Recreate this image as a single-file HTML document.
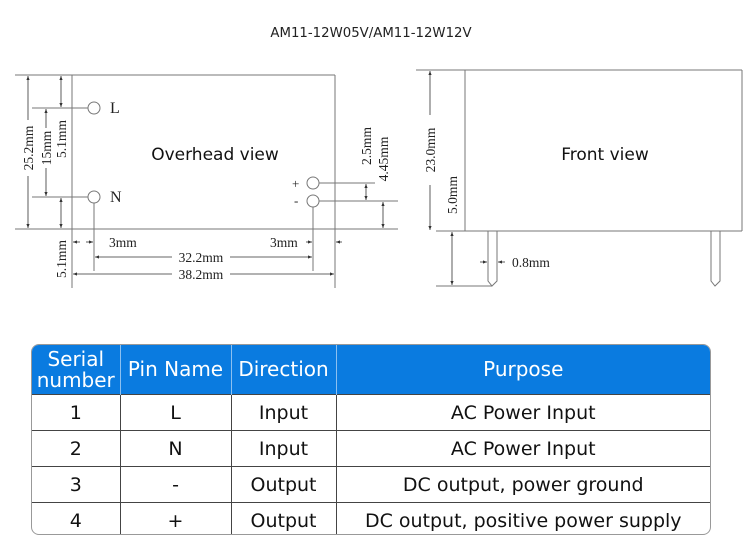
<!DOCTYPE html>
<html><head><meta charset="utf-8"><style>
html,body{margin:0;padding:0;background:#fff;}
body{width:750px;height:546px;position:relative;overflow:hidden;}
svg{position:absolute;left:0;top:0;}
.tb{position:absolute;left:31px;top:344px;width:680px;height:191px;border:1px solid #999;border-radius:8px;overflow:hidden;box-sizing:border-box;}
table{border-collapse:collapse;width:100%;height:100%;font-family:"DejaVu Sans","Liberation Sans",sans-serif;font-size:19px;color:#111;table-layout:fixed;}
th{background:#0a7be0;color:#fff;font-weight:normal;font-size:20px;height:49px;border-right:1px solid #8cc0f0;line-height:21px;padding:0;}
td{text-align:center;border-top:1px solid #444;border-right:1px solid #444;padding:0;height:35px;}
th:last-child,td:last-child{border-right:none;}
</style></head><body>
<svg width="750" height="546" xmlns="http://www.w3.org/2000/svg" font-family="Liberation Serif, serif" font-size="13.5" fill="#222">
<defs>
<marker id="a" viewBox="0 0 10 10" refX="10" refY="5" markerWidth="5" markerHeight="5" orient="auto-start-reverse"><path d="M0,1 L10,5 L0,9z" fill="#333"/></marker>
</defs>
<text x="371" y="37" text-anchor="middle" font-family="DejaVu Sans, Liberation Sans, sans-serif" font-size="13.3" fill="#222">AM11-12W05V/AM11-12W12V</text>
<g stroke="#777" stroke-width="1" fill="none">
<line x1="15" y1="75" x2="335" y2="75"/>
<line x1="15" y1="229" x2="398" y2="229"/>
<line x1="72" y1="75" x2="72" y2="288"/>
<line x1="335" y1="75" x2="335" y2="288"/>
<circle cx="94" cy="108" r="6"/><circle cx="94" cy="197" r="6"/>
<circle cx="313" cy="183" r="6"/><circle cx="313" cy="201" r="6"/>
<line x1="32" y1="108" x2="88" y2="108"/><line x1="32" y1="197" x2="88" y2="197"/>
<line x1="94" y1="203" x2="94" y2="271"/><line x1="313" y1="207" x2="313" y2="271"/>
<line x1="319" y1="183" x2="375" y2="183"/><line x1="319" y1="201" x2="398" y2="201"/>
</g>
<g stroke="#333" stroke-width="0.8" marker-start="url(#a)" marker-end="url(#a)">
<line x1="28" y1="76" x2="28" y2="228"/>
<line x1="46" y1="109" x2="46" y2="196"/>
<line x1="61" y1="76" x2="61" y2="107"/>
<line x1="61" y1="198" x2="61" y2="228"/>
<line x1="366" y1="184" x2="366" y2="200"/>
<line x1="383" y1="202" x2="383" y2="228"/>
<line x1="95" y1="257" x2="312" y2="257"/>
<line x1="73" y1="274" x2="334" y2="274"/>
<line x1="430" y1="71" x2="430" y2="230"/>
<line x1="452" y1="232" x2="452" y2="285"/>
</g>
<g stroke="#333" stroke-width="0.8" marker-end="url(#a)">
<line x1="80" y1="242" x2="73" y2="242"/><line x1="86" y1="242" x2="93" y2="242"/>
<line x1="306" y1="242" x2="312" y2="242"/><line x1="342" y1="242" x2="336" y2="242"/>
<line x1="480" y1="262" x2="487" y2="262"/><line x1="505" y1="262" x2="498" y2="262"/>
</g>
<g fill="#fff">
<rect x="20" y="120" width="16" height="56"/><rect x="38" y="128" width="16" height="40"/>
<rect x="53" y="114" width="16" height="50"/><rect x="53" y="234" width="16" height="50"/>
<rect x="358" y="122" width="16" height="48"/><rect x="375" y="130" width="16" height="58"/>
<rect x="422" y="115" width="16" height="70"/><rect x="444" y="166" width="16" height="58"/>
<rect x="172" y="250" width="58" height="14"/><rect x="172" y="267" width="58" height="14"/>
</g>
<text x="110" y="113" font-size="16">L</text>
<text x="110" y="202" font-size="16">N</text>
<text x="292" y="188" font-size="13">+</text>
<text x="294" y="205" font-size="13">-</text>
<text x="109" y="247">3mm</text>
<text x="270" y="247">3mm</text>
<text x="201" y="262" text-anchor="middle">32.2mm</text>
<text x="201" y="279" text-anchor="middle">38.2mm</text>
<text x="512" y="267">0.8mm</text>
<text transform="translate(33,148) rotate(-90)" text-anchor="middle">25.2mm</text>
<text transform="translate(51,148) rotate(-90)" text-anchor="middle">15mm</text>
<text transform="translate(66,139) rotate(-90)" text-anchor="middle">5.1mm</text>
<text transform="translate(66,259) rotate(-90)" text-anchor="middle">5.1mm</text>
<text transform="translate(371,146) rotate(-90)" text-anchor="middle">2.5mm</text>
<text transform="translate(388,159) rotate(-90)" text-anchor="middle">4.45mm</text>
<text transform="translate(435,150) rotate(-90)" text-anchor="middle">23.0mm</text>
<text transform="translate(457,195) rotate(-90)" text-anchor="middle">5.0mm</text>
<g font-family="DejaVu Sans, Liberation Sans, sans-serif" font-size="17" fill="#111">
<text x="215" y="160" text-anchor="middle">Overhead view</text>
<text x="605" y="160" text-anchor="middle">Front view</text>
</g>
<g stroke="#777" stroke-width="1" fill="none">
<line x1="416" y1="70" x2="742" y2="70"/>
<line x1="436" y1="231" x2="742" y2="231"/>
<line x1="465" y1="70" x2="465" y2="231"/>
<line x1="742" y1="70" x2="742" y2="231"/>
<path d="M488,231 V281 L492,286 L497,281 V231"/>
<path d="M711,231 V281 L715,286 L720,281 V231"/>
<line x1="436" y1="286" x2="492" y2="286"/>
</g>
</svg>
<div class="tb"><table>
<colgroup><col style="width:88px"><col style="width:111px"><col style="width:105px"><col></colgroup>
<tr><th>Serial<br>number</th><th>Pin Name</th><th>Direction</th><th>Purpose</th></tr>
<tr><td>1</td><td>L</td><td>Input</td><td>AC Power Input</td></tr>
<tr><td>2</td><td>N</td><td>Input</td><td>AC Power Input</td></tr>
<tr><td>3</td><td>-</td><td>Output</td><td>DC output, power ground</td></tr>
<tr><td>4</td><td>+</td><td>Output</td><td>DC output, positive power supply</td></tr>
</table></div>
</body></html>
